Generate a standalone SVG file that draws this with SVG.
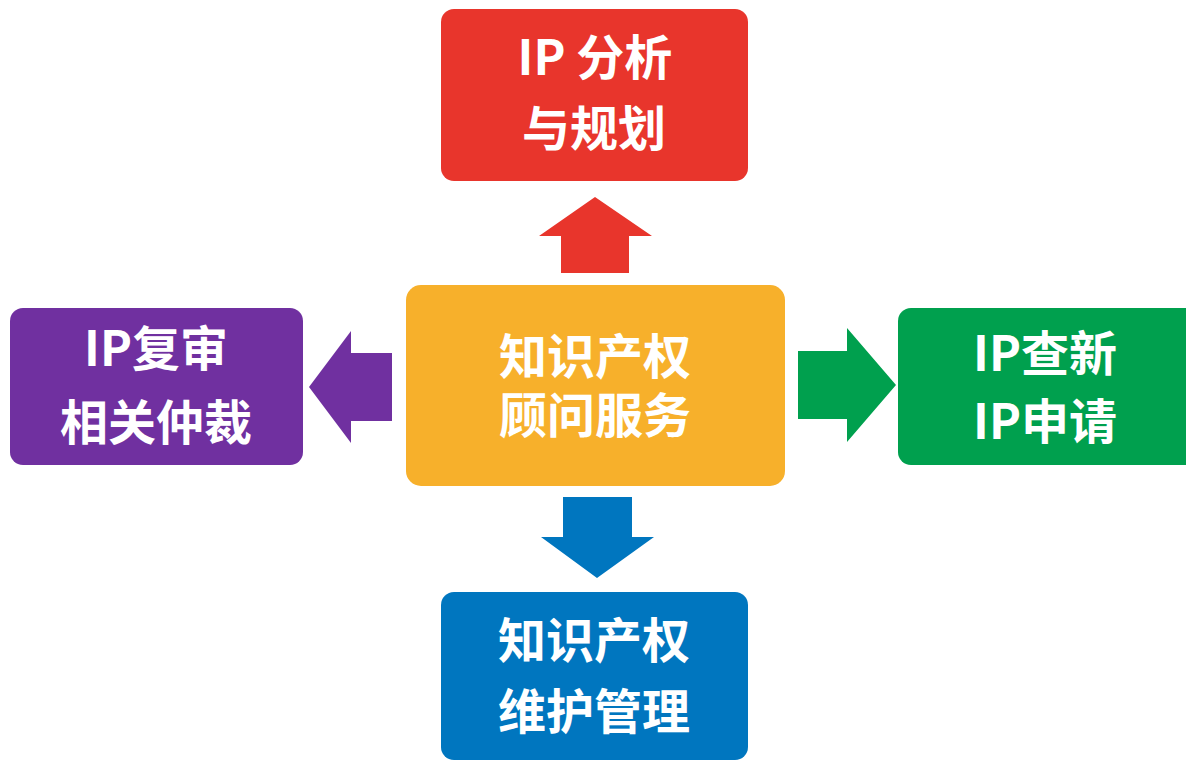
<svg xmlns="http://www.w3.org/2000/svg" width="1186" height="761" viewBox="0 0 1186 761">
<style>
.t{font-family:"Noto Sans CJK SC","Noto Sans",sans-serif;font-weight:bold;font-size:48px;fill:#fff;text-anchor:middle}
</style>
<rect width="1186" height="761" fill="#fff"/>
<g id="connectors">
<polygon id="arrow-up" fill="#E8352C" points="595,197 652,236 629,236 629,273 561,273 561,236 539,236"/>
<polygon id="arrow-left" fill="#7030A0" points="309,387 351,331 351,353 392,353 392,421 351,421 351,443"/>
<polygon id="arrow-right" fill="#00A04E" points="896,385 847,328 847,351 798,351 798,419 847,419 847,442"/>
<polygon id="arrow-down" fill="#0076BF" points="597,578 654,537 632,537 632,497 563,497 563,537 541,537"/>
</g>
<g id="node-center">
<rect x="406" y="285" width="379" height="201" rx="15" fill="#F7B02B"/>
<text class="t" x="595" y="374">知识产权</text>
<text class="t" x="595" y="433">顾问服务</text>
</g>
<g id="node-top">
<rect x="441" y="9" width="307" height="172" rx="13" fill="#E8352C"/>
<text class="t" x="595" y="75">IP 分析</text>
<text class="t" x="594" y="146">与规划</text>
</g>
<g id="node-left">
<rect x="10" y="308" width="293" height="157" rx="13" fill="#7030A0"/>
<text class="t" x="156" y="366">IP复审</text>
<text class="t" x="156" y="440">相关仲裁</text>
</g>
<g id="node-right">
<rect x="898" y="308" width="300" height="157" rx="13" fill="#00A04E"/>
<text class="t" x="1045" y="371">IP查新</text>
<text class="t" x="1045" y="439">IP申请</text>
</g>
<g id="node-bottom">
<rect x="441" y="592" width="307" height="168" rx="13" fill="#0076BF"/>
<text class="t" x="594" y="658">知识产权</text>
<text class="t" x="594" y="729">维护管理</text>
</g>
</svg>
